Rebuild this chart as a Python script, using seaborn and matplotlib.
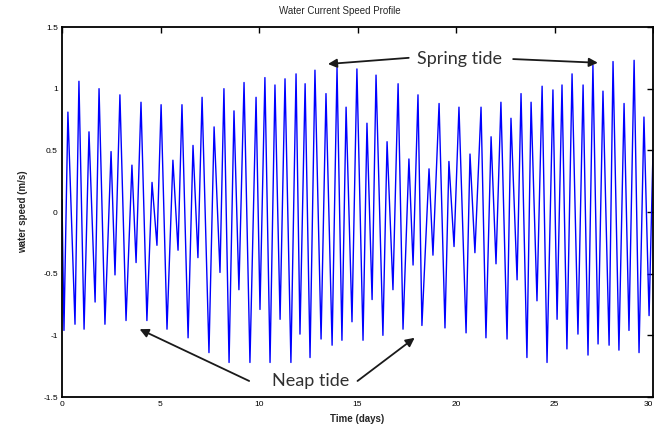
import numpy as np
import pandas as pd
import seaborn as sns
import matplotlib
matplotlib.use("Agg")
import matplotlib.pyplot as plt

# Tidal current extremes (time in days, speed in m/s) ##

t_days = [
    0.00, 0.10, 0.30, 0.66, 0.86, 1.12, 1.37, 1.68, 1.88, 2.18, 2.49, 2.69,
    2.94, 3.25, 3.55, 3.76, 4.01, 4.31, 4.57, 4.82, 5.03, 5.33, 5.63, 5.89,
    6.09, 6.40, 6.65, 6.90, 7.11, 7.46, 7.72, 8.02, 8.22, 8.48, 8.73, 8.98,
    9.24, 9.54, 9.85, 10.05, 10.30, 10.56, 10.81, 11.07, 11.32, 11.62, 11.88, 12.08,
    12.34, 12.59, 12.84, 13.15, 13.40, 13.71, 13.96, 14.21, 14.42, 14.72, 14.97, 15.28,
    15.48, 15.74, 15.94, 16.29, 16.50, 16.80, 17.06, 17.31, 17.61, 17.82, 18.07, 18.27,
    18.63, 18.83, 19.14, 19.44, 19.64, 19.90, 20.15, 20.51, 20.71, 20.96, 21.27, 21.52,
    21.78, 22.03, 22.28, 22.59, 22.79, 23.10, 23.30, 23.60, 23.81, 24.11, 24.37, 24.62,
    24.92, 25.13, 25.38, 25.63, 25.89, 26.19, 26.45, 26.70, 26.95, 27.21, 27.46, 27.77,
    27.97, 28.27, 28.53, 28.78, 29.04, 29.29, 29.54, 29.80, 30.00,
]

speed = [
    0.10, -0.96, 0.81, -0.91, 1.06, -0.95, 0.65, -0.73, 1.00, -0.91, 0.49, -0.51,
    0.95, -0.88, 0.38, -0.41, 0.89, -0.88, 0.24, -0.27, 0.87, -0.95, 0.42, -0.31,
    0.87, -1.02, 0.54, -0.37, 0.93, -1.14, 0.69, -0.49, 1.00, -1.22, 0.82, -0.63,
    1.05, -1.22, 0.93, -0.79, 1.09, -1.22, 1.03, -0.87, 1.08, -1.22, 1.12, -0.99,
    1.04, -1.18, 1.15, -1.03, 0.96, -1.08, 1.17, -1.04, 0.85, -0.89, 1.16, -1.04,
    0.72, -0.71, 1.11, -1.00, 0.57, -0.63, 1.04, -0.95, 0.43, -0.43, 0.95, -0.92,
    0.35, -0.35, 0.88, -0.94, 0.41, -0.28, 0.85, -0.98, 0.47, -0.33, 0.85, -1.02,
    0.61, -0.42, 0.89, -1.03, 0.76, -0.55, 0.96, -1.18, 0.89, -0.72, 1.02, -1.22,
    0.99, -0.87, 1.03, -1.11, 1.12, -0.99, 1.03, -1.16, 1.19, -1.07, 0.98, -1.08,
    1.22, -1.12, 0.88, -0.96, 1.23, -1.14, 0.77, -0.84, 0.50,
]

x_ticks = [0, 5, 10, 15, 20, 25, 30]
y_ticks = [-1.5, -1, -0.5, 0, 0.5, 1, 1.5]

df = pd.DataFrame({'t': t_days, 'v': speed})

# Plot #########################################################################

sns.set_style("white")
plt.rcParams['font.family'] = ['Liberation Sans', 'DejaVu Sans']

fig = plt.figure(figsize=(6.54, 4.32), dpi=100)
ax = fig.add_axes([0.0948, 0.081, 0.9037, 0.8565])

sns.lineplot(data=df, x='t', y='v', color='#0000ff', linewidth=1.0,
             estimator=None, sort=False, ax=ax)

ax.set_xlim(0, 30)
ax.set_ylim(-1.5, 1.5)
ax.set_xticks(x_ticks)
ax.set_yticks(y_ticks)
ax.set_xticklabels([str(v) for v in x_ticks], fontsize=6)
ax.set_yticklabels([f'{v:g}' for v in y_ticks], fontsize=6)
ax.get_xticklabels()[-1].set_horizontalalignment('right')
ax.tick_params(direction='in', length=4, width=1, top=True, right=True,
               pad=3, colors='black')
for s in ax.spines.values():
    s.set_color('black')
    s.set_linewidth(1.3)

ax.set_xlabel('Time (days)', fontsize=7, fontweight='bold', labelpad=4)
ax.set_ylabel('water speed (m/s)', fontsize=7, fontweight='bold', labelpad=11)
fig.text(0.52, 0.975, 'Water Current Speed Profile', fontsize=7,
         ha='center', va='center')

# Annotations ##################################################################

arrow = dict(arrowstyle='-|>', color='#1a1a1a', lw=1.3, mutation_scale=13,
             shrinkA=0, shrinkB=0)
ax.text(20.2, 1.24, 'Spring tide', family='Lato', fontsize=13,
        color='#303030', ha='center', va='center')
ax.annotate('', xy=(13.5, 1.20), xytext=(17.6, 1.25), arrowprops=arrow)
ax.annotate('', xy=(27.2, 1.21), xytext=(22.9, 1.24), arrowprops=arrow)

ax.text(12.6, -1.37, 'Neap tide', family='Lato', fontsize=13,
        color='#303030', ha='center', va='center')
ax.annotate('', xy=(3.94, -0.95), xytext=(9.5, -1.37), arrowprops=arrow)
ax.annotate('', xy=(17.9, -1.02), xytext=(15.0, -1.37), arrowprops=arrow)

fig.savefig('out.png', dpi=100)
